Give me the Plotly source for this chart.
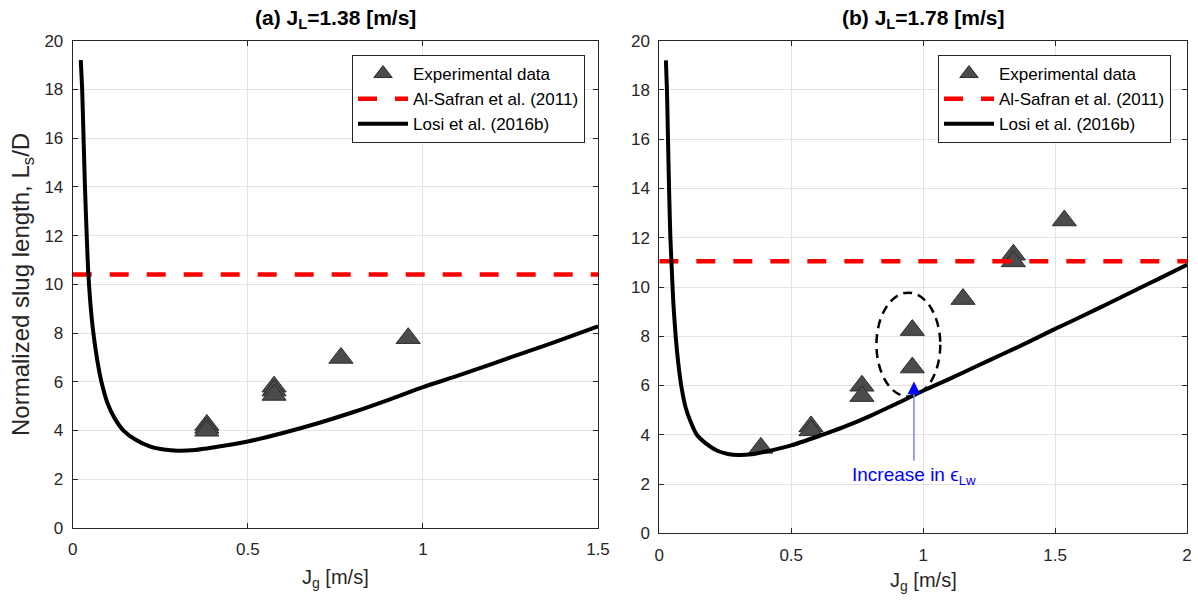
import plotly.graph_objects as go

# ---------------- data ----------------
# Losi et al. (2016b) model curve, panel (a)
losi_a_x = [0.023, 0.027, 0.031, 0.035, 0.040, 0.044, 0.050, 0.059, 0.070, 0.082,
            0.100, 0.120, 0.145, 0.180, 0.220, 0.260, 0.300, 0.350, 0.400, 0.500,
            0.600, 0.700, 0.800, 0.900, 1.000, 1.100, 1.200, 1.300, 1.400, 1.500]
losi_a_y = [19.2, 18.0, 16.0, 14.0, 12.0, 10.6, 9.3, 8.0, 6.9, 6.0,
            5.1, 4.5, 4.0, 3.62, 3.35, 3.22, 3.17, 3.20, 3.30, 3.55,
            3.90, 4.30, 4.75, 5.25, 5.78, 6.25, 6.75, 7.25, 7.75, 8.28]
# Losi et al. (2016b) model curve, panel (b)
losi_b_x = [0.025, 0.029, 0.033, 0.037, 0.042, 0.047, 0.053, 0.062, 0.072, 0.083,
            0.100, 0.120, 0.142, 0.180, 0.220, 0.260, 0.300, 0.350, 0.400, 0.500,
            0.600, 0.700, 0.800, 0.900, 1.000, 1.100, 1.200, 1.300, 1.400, 1.500,
            1.600, 1.700, 1.800, 1.900, 2.000]
losi_b_y = [19.2, 18.0, 16.0, 14.0, 12.0, 10.8, 9.4, 8.0, 6.9, 6.0,
            5.1, 4.5, 4.0, 3.62, 3.35, 3.22, 3.18, 3.21, 3.31, 3.57,
            3.93, 4.32, 4.77, 5.27, 5.79, 6.27, 6.77, 7.27, 7.77, 8.30,
            8.80, 9.32, 9.85, 10.37, 10.90]

# Experimental data
exp_a_x = [0.383, 0.383, 0.383, 0.575, 0.575, 0.575, 0.766, 0.958]
exp_a_y = [4.23, 4.11, 3.99, 5.80, 5.64, 5.46, 6.98, 7.79]
exp_b_x = [0.385, 0.575, 0.575, 0.768, 0.768, 0.959, 0.959, 1.151, 1.342, 1.342, 1.535]
exp_b_y = [3.47, 4.34, 4.18, 5.99, 5.57, 8.25, 6.73, 9.51, 11.31, 11.04, 12.70]

# Al-Safran et al. (2011) constant predictions
alsafran_a = 10.40
alsafran_b = 11.05

xmax_a = 1.5
xmax_b = 2.0
xticks_a = [0, 0.5, 1, 1.5]
xticks_b = [0, 0.5, 1, 1.5, 2]
xticklabels_a = ["0", "0.5", "1", "1.5"]
xticklabels_b = ["0", "0.5", "1", "1.5", "2"]
yticks = [0, 2, 4, 6, 8, 10, 12, 14, 16, 18, 20]

# highlighted group (ellipse) and arrow in panel (b)
ellipse_cx, ellipse_cy, ellipse_rx, ellipse_ry = 0.944, 7.66, 0.121, 2.11
arrow_x, arrow_y0, arrow_y1 = 0.965, 2.95, 6.16
label_y = 2.33

W, H = 1198, 602
FONT = "Liberation Sans, Arial, Helvetica, sans-serif"
AXC = "#262626"
MK = dict(symbol="triangle-up", size=21, color="#4b4b4b",
          line=dict(color="#2e2e2e", width=1))
CURVE = dict(color="#000000", width=4, shape="spline", smoothing=0.6)

fig = go.Figure()

# ---------- panel (a)
fig.add_trace(go.Scatter(x=exp_a_x, y=exp_a_y, mode="markers", marker=MK,
                         name="Experimental data", xaxis="x", yaxis="y", legend="legend"))
fig.add_trace(go.Scatter(x=[0, xmax_a], y=[alsafran_a, alsafran_a], mode="lines",
                         line=dict(color="#ff0000", width=4.5, dash="19px,18px"),
                         name="Al-Safran et al. (2011)", xaxis="x", yaxis="y", legend="legend"))
fig.add_trace(go.Scatter(x=losi_a_x, y=losi_a_y, mode="lines", line=CURVE,
                         name="Losi et al. (2016b)", xaxis="x", yaxis="y", legend="legend"))

# ---------- panel (b)
fig.add_trace(go.Scatter(x=exp_b_x, y=exp_b_y, mode="markers", marker=MK,
                         name="Experimental data", xaxis="x2", yaxis="y2", legend="legend2"))
fig.add_trace(go.Scatter(x=[0, xmax_b], y=[alsafran_b, alsafran_b], mode="lines",
                         line=dict(color="#ff0000", width=4.5, dash="19px,18px"),
                         name="Al-Safran et al. (2011)", xaxis="x2", yaxis="y2", legend="legend2"))
fig.add_trace(go.Scatter(x=losi_b_x, y=losi_b_y, mode="lines", line=CURVE,
                         name="Losi et al. (2016b)", xaxis="x2", yaxis="y2", legend="legend2"))


def px_x(p):
    return p / W


def px_y(p):
    return (H - p) / H


axis_common = dict(showline=True, linecolor=AXC, linewidth=1, mirror="ticks",
                   ticks="inside", ticklen=5, tickcolor=AXC, showgrid=True,
                   gridcolor="#e3e3e3", gridwidth=1, zeroline=False, automargin=False,
                   ticklabeloverflow="allow",
                   tickfont=dict(family=FONT, size=17, color=AXC))

leg_common = dict(xanchor="right", y=px_y(55), yanchor="top",
                  bgcolor="white", bordercolor=AXC, borderwidth=1,
                  font=dict(family=FONT, size=17, color="#000000"),
                  itemwidth=50, traceorder="normal")

fig.update_layout(
    width=W, height=H,
    margin=dict(l=0, r=0, t=0, b=0, autoexpand=False),
    paper_bgcolor="white", plot_bgcolor="white",
    font=dict(family=FONT, color=AXC),
    xaxis=dict(domain=[px_x(72.7), px_x(598)], range=[0, xmax_a], anchor="y",
               tickvals=xticks_a, ticktext=xticklabels_a, ticklabelstandoff=6,
               **axis_common),
    yaxis=dict(domain=[px_y(528), px_y(40.7)], range=[0, 20], anchor="x",
               tickvals=yticks, ticklabelstandoff=5, **axis_common),
    xaxis2=dict(domain=[px_x(659.3), px_x(1187)], range=[0, xmax_b], anchor="y2",
                tickvals=xticks_b, ticktext=xticklabels_b, ticklabelstandoff=6,
                **axis_common),
    yaxis2=dict(domain=[px_y(533.3), px_y(40.7)], range=[0, 20], anchor="x2",
                tickvals=yticks, ticklabelstandoff=5, **axis_common),
    legend=dict(x=px_x(585), **leg_common),
    legend2=dict(x=px_x(1171), **leg_common),
    showlegend=True,
)

# ellipse and arrow (panel b)
fig.add_shape(type="circle", xref="x2", yref="y2",
              x0=ellipse_cx - ellipse_rx, x1=ellipse_cx + ellipse_rx,
              y0=ellipse_cy - ellipse_ry, y1=ellipse_cy + ellipse_ry,
              line=dict(color="black", width=2.5, dash="9px,6px"))
fig.add_shape(type="line", xref="x2", yref="y2",
              x0=arrow_x, x1=arrow_x, y0=arrow_y0, y1=arrow_y1 - 0.35,
              line=dict(color="#8080ff", width=1.5))
fig.add_annotation(x=arrow_x, y=arrow_y1, xref="x2", yref="y2",
                   ax=arrow_x, ay=arrow_y1 - 0.4, axref="x2", ayref="y2",
                   text="", showarrow=True, arrowhead=2, arrowsize=1.7,
                   arrowwidth=1.5, arrowcolor="#0000ff")
fig.add_annotation(x=arrow_x, y=label_y, xref="x2", yref="y2",
                   xanchor="center", yanchor="middle",
                   text="Increase in ϵ<sub>Lw</sub>", showarrow=False,
                   font=dict(family=FONT, size=19, color="#0000ff"))

# titles and axis labels
ann_font = dict(family=FONT, size=21, color="#000000")
fig.add_annotation(x=px_x(335.3), y=px_y(19), xref="paper", yref="paper",
                   xanchor="center", yanchor="middle",
                   text="<b>(a) J<sub>L</sub>=1.38 [m/s]</b>", showarrow=False, font=ann_font)
fig.add_annotation(x=px_x(923), y=px_y(19), xref="paper", yref="paper",
                   xanchor="center", yanchor="middle",
                   text="<b>(b) J<sub>L</sub>=1.78 [m/s]</b>", showarrow=False, font=ann_font)
lab_font = dict(family=FONT, size=20, color=AXC)
fig.add_annotation(x=px_x(335.3), y=px_y(578), xref="paper", yref="paper",
                   xanchor="center", yanchor="middle",
                   text="J<sub>g</sub> [m/s]", showarrow=False, font=lab_font)
fig.add_annotation(x=px_x(923), y=px_y(581), xref="paper", yref="paper",
                   xanchor="center", yanchor="middle",
                   text="J<sub>g</sub> [m/s]", showarrow=False, font=lab_font)
fig.add_annotation(x=px_x(22), y=px_y(285), xref="paper", yref="paper",
                   xanchor="center", yanchor="middle",
                   text="Normalized slug length, L<sub>s</sub>/D", textangle=-90,
                   showarrow=False, font=dict(family=FONT, size=24, color=AXC))

# remove the browser's default page margin so the figure sits at (0, 0)
fig.write_html("out.html",
               config={"displayModeBar": False},
               post_script="document.body.style.margin='0px';"
                           "document.documentElement.style.overflow='hidden';")
